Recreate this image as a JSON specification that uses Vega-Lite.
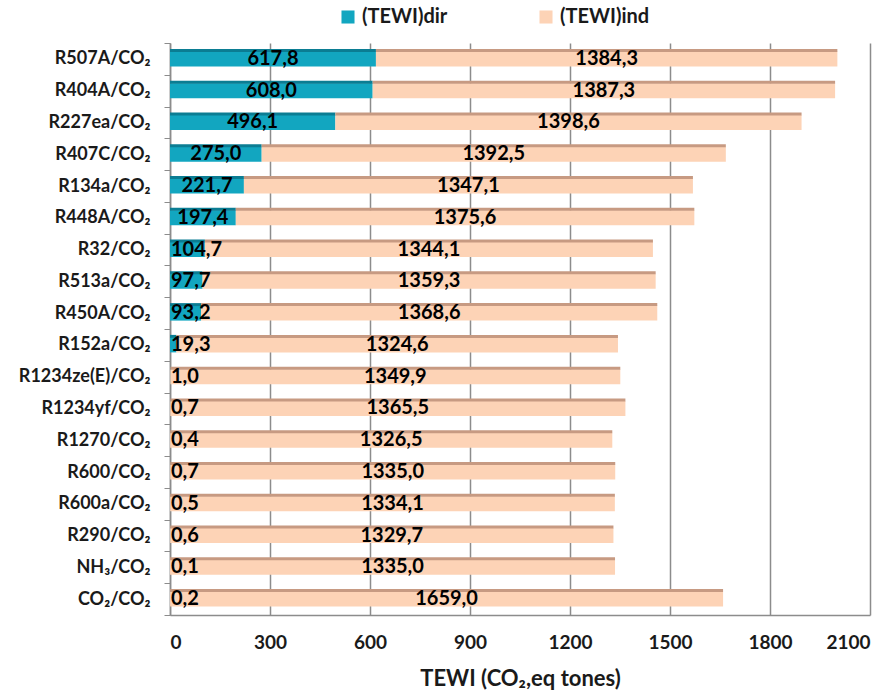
{
  "$schema": "https://vega.github.io/schema/vega-lite/v6.json",
  "width": 700,
  "height": 572,
  "autosize": {"type": "none"},
  "padding": {"left": 170, "top": 43, "right": 17, "bottom": 78},
  "background": "white",
  "config": {
    "locale": {"number": {"decimal": ",", "thousands": ".", "grouping": [3], "currency": ["", ""]}},
    "view": {"stroke": null},
    "font": "Lato"
  },
  "data": {
    "values": [
      {"refrigerant": "R507A/CO₂", "dir": 617.8, "ind": 1384.3},
      {"refrigerant": "R404A/CO₂", "dir": 608.0, "ind": 1387.3},
      {"refrigerant": "R227ea/CO₂", "dir": 496.1, "ind": 1398.6},
      {"refrigerant": "R407C/CO₂", "dir": 275.0, "ind": 1392.5},
      {"refrigerant": "R134a/CO₂", "dir": 221.7, "ind": 1347.1},
      {"refrigerant": "R448A/CO₂", "dir": 197.4, "ind": 1375.6},
      {"refrigerant": "R32/CO₂", "dir": 104.7, "ind": 1344.1},
      {"refrigerant": "R513a/CO₂", "dir": 97.7, "ind": 1359.3},
      {"refrigerant": "R450A/CO₂", "dir": 93.2, "ind": 1368.6},
      {"refrigerant": "R152a/CO₂", "dir": 19.3, "ind": 1324.6},
      {"refrigerant": "R1234ze(E)/CO₂", "dir": 1.0, "ind": 1349.9},
      {"refrigerant": "R1234yf/CO₂", "dir": 0.7, "ind": 1365.5},
      {"refrigerant": "R1270/CO₂", "dir": 0.4, "ind": 1326.5},
      {"refrigerant": "R600/CO₂", "dir": 0.7, "ind": 1335.0},
      {"refrigerant": "R600a/CO₂", "dir": 0.5, "ind": 1334.1},
      {"refrigerant": "R290/CO₂", "dir": 0.6, "ind": 1329.7},
      {"refrigerant": "NH₃/CO₂", "dir": 0.1, "ind": 1335.0},
      {"refrigerant": "CO₂/CO₂", "dir": 0.2, "ind": 1659.0}
    ]
  },
  "encoding": {
    "y": {
      "field": "refrigerant",
      "type": "nominal",
      "sort": null,
      "scale": {"paddingInner": 0, "paddingOuter": 0},
      "axis": {
        "title": null,
        "labelFont": "Lato",
        "labelFontWeight": "bold",
        "labelFontSize": 18,
        "labelColor": "#1a1a1a",
        "labelPadding": 14,
        "tickBand": "extent",
        "tickColor": "#8c8c8c",
        "tickSize": 6,
        "domainColor": "#8c8c8c",
        "domainWidth": 1.5,
        "grid": false
      }
    }
  },
  "layer": [
    {
      "transform": [{"fold": ["dir", "ind"], "as": ["key", "value"]},
        {"calculate": "datum.key === 'dir' ? '(TEWI)dir' : '(TEWI)ind'", "as": "series"}],
      "mark": {"type": "bar", "height": 15},
      "encoding": {
        "x": {
          "field": "value",
          "type": "quantitative",
          "stack": "zero",
          "scale": {"domain": [0, 2100], "nice": false},
          "axis": {
            "values": [0, 300, 600, 900, 1200, 1500, 1800, 2100],
            "format": "d",
            "title": "TEWI (CO₂,eq tones)",
            "titleFont": "Lato",
            "titleFontSize": 22,
            "titleFontWeight": "bold",
            "titleColor": "#1a1a1a",
            "titlePadding": 16,
            "labelFont": "Lato",
            "labelFontSize": 19,
            "labelFontWeight": "bold",
            "labelColor": "#1a1a1a",
            "labelPadding": 18,
            "ticks": false,
            "domainColor": "#8c8c8c",
            "domainWidth": 1.5,
            "grid": true,
            "gridColor": "#8c8c8c",
            "gridWidth": 1.5
          }
        },
        "color": {
          "field": "series",
          "type": "nominal",
          "scale": {"domain": ["(TEWI)dir", "(TEWI)ind"], "range": ["#12a6c0", "#fdd3b6"]},
          "legend": {
            "title": null,
            "orient": "none",
            "direction": "horizontal",
            "legendX": 168,
            "legendY": -36,
            "symbolType": "square",
            "symbolSize": 170,
            "symbolStrokeWidth": 0,
            "labelFont": "Lato",
            "labelFontSize": 20,
            "labelFontWeight": "bold",
            "labelColor": "#1a1a1a",
            "columnPadding": 88
          }
        },
        "order": {"field": "key"}
      }
    },
    {
      "transform": [{"fold": ["dir", "ind"], "as": ["key", "value"]}],
      "mark": {"type": "bar", "height": 3, "yOffset": -8.5},
      "encoding": {
        "x": {"field": "value", "type": "quantitative", "stack": "zero"},
        "detail": {"field": "key"},
        "order": {"field": "key"},
        "color": {"condition": {"test": "datum.key === 'dir'", "value": "#0b7d93"}, "value": "#c79a82"}
      }
    },
    {
      "transform": [{"filter": "datum.dir >= 150"}, {"calculate": "datum.dir / 2", "as": "dirmid"}],
      "mark": {"type": "text", "align": "center", "baseline": "middle", "font": "Lato", "fontWeight": "bold", "fontSize": 20, "color": "#000"},
      "encoding": {
        "x": {"field": "dirmid", "type": "quantitative"},
        "text": {"field": "dir", "type": "quantitative", "format": ".1f"}
      }
    },
    {
      "transform": [{"filter": "datum.dir < 150"}],
      "mark": {"type": "text", "align": "left", "baseline": "middle", "dx": 1, "font": "Lato", "fontWeight": "bold", "fontSize": 20, "color": "#000"},
      "encoding": {
        "x": {"datum": 0, "type": "quantitative"},
        "text": {"field": "dir", "type": "quantitative", "format": ".1f"}
      }
    },
    {
      "transform": [{"calculate": "datum.dir + datum.ind / 2", "as": "indmid"}],
      "mark": {"type": "text", "align": "center", "baseline": "middle", "font": "Lato", "fontWeight": "bold", "fontSize": 20, "color": "#000"},
      "encoding": {
        "x": {"field": "indmid", "type": "quantitative"},
        "text": {"field": "ind", "type": "quantitative", "format": ".1f"}
      }
    }
  ]
}
